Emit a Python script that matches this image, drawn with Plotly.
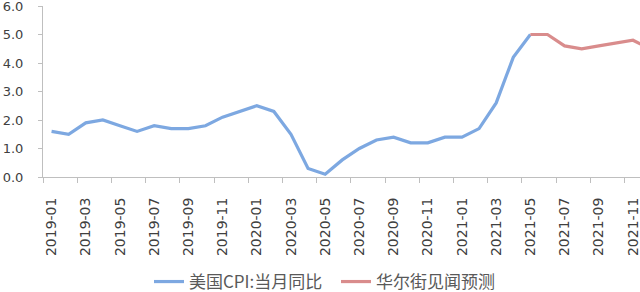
import plotly.graph_objects as go

months = [f"{y}-{m:02d}" for y in (2019, 2020, 2021) for m in range(1, 13)]

cpi_yoy = [1.6, 1.5, 1.9, 2.0, 1.8, 1.6, 1.8, 1.7, 1.7, 1.8, 2.1, 2.3,
           2.5, 2.3, 1.5, 0.3, 0.1, 0.6, 1.0, 1.3, 1.4, 1.2, 1.2, 1.4,
           1.4, 1.7, 2.6, 4.2, 5.0]

forecast = [None] * 28 + [5.0, 5.0, 4.6, 4.5, 4.6, 4.7, 4.8, 4.5]

y_ticks = [0, 1, 2, 3, 4, 5, 6]
y_ticktext = ["0.0", "1.0", "2.0", "3.0", "4.0", "5.0", "6.0"]

name_cpi = "美国CPI:当月同比"
name_fc = "华尔街见闻预测"

BLUE = "#7DA8E1"
RED = "#D98C8C"
AXIS = "#BFBFBF"

fig = go.Figure()
fig.add_trace(go.Scatter(x=months[:len(cpi_yoy)], y=cpi_yoy, mode="lines",
                         name=name_cpi, line=dict(color=BLUE, width=3.2)))
fig.add_trace(go.Scatter(x=months, y=forecast, mode="lines",
                         name=name_fc, line=dict(color=RED, width=3.2)))

fig.update_layout(
    width=640, height=292,
    margin=dict(l=43, r=0, t=6, b=115, autoexpand=False),
    paper_bgcolor="white", plot_bgcolor="white",
    font=dict(family="DejaVu Sans", size=13, color="#404040"),
    showlegend=True,
    legend=dict(orientation="h", xref="container", yref="container",
                xanchor="left", x=149 / 640, yanchor="middle", y=1 - 282 / 292,
                font=dict(family="Noto Sans CJK SC", size=17, color="#595959"),
                entrywidth=142, entrywidthmode="pixels",
                bgcolor="rgba(0,0,0,0)"),
    xaxis=dict(type="category", categoryorder="array", categoryarray=months,
               range=[-0.5, 34.41], tickmode="linear", tick0=0, dtick=2,
               tickson="boundaries", ticks="outside", ticklen=5, tickcolor=AXIS,
               showline=True, linecolor=AXIS, linewidth=1, showgrid=False,
               tickangle=-90, zeroline=False, ticklabelstandoff=14,
               automargin=False, ticklabeloverflow="allow",
               tickfont=dict(family="DejaVu Sans", size=14, color="#404040")),
    yaxis=dict(range=[0, 6.001], tickvals=y_ticks, ticktext=y_ticktext,
               ticks="outside", ticklen=4, tickcolor=AXIS, ticklabelstandoff=12,
               showline=True, linecolor=AXIS, linewidth=1, showgrid=False,
               zeroline=False, automargin=False, ticklabeloverflow="allow",
               tickfont=dict(family="DejaVu Sans", size=13, color="#404040")),
)

fig.write_html("out.html")
